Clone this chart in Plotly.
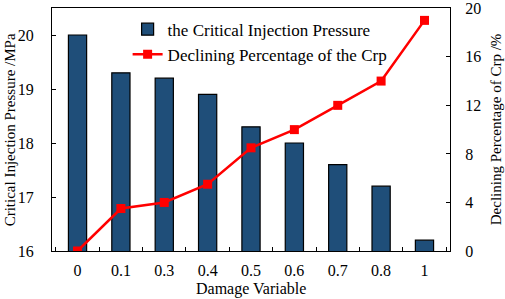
import plotly.graph_objects as go

categories = ["0", "0.1", "0.3", "0.4", "0.5", "0.6", "0.7", "0.8", "1"]
pressure = [20.0, 19.3, 19.2, 18.9, 18.3, 18.0, 17.6, 17.2, 16.2]
declining = [0, 3.5, 4.0, 5.5, 8.5, 10.0, 12.0, 14.0, 19.0]

x_title = "Damage Variable"
y_title = "Critical Injection Pressure /MPa"
y2_title = "Declining Percentage of Crp /%"

font = "Liberation Serif, Times New Roman, serif"

fig = go.Figure()
fig.add_trace(go.Bar(
    x=categories, y=pressure, name="the Critical Injection Pressure",
    marker=dict(color="#1f4e79", line=dict(color="black", width=1.2)),
    width=0.42,
))
fig.add_trace(go.Scatter(
    x=categories, y=declining, name="Declining Percentage of the Crp",
    mode="lines+markers", yaxis="y2",
    line=dict(color="#ff0000", width=2.5),
    marker=dict(symbol="square", size=9, color="#ff0000"),
))

fig.update_layout(
    width=505, height=299,
    margin=dict(l=52, r=55, t=8, b=48, autoexpand=False),
    paper_bgcolor="white", plot_bgcolor="white",
    font=dict(family=font, size=16, color="black"),
    showlegend=True,
    legend=dict(x=0.19, y=0.985, xanchor="left", yanchor="top",
                bgcolor="rgba(0,0,0,0)", font=dict(size=17),
                tracegroupgap=0, itemwidth=30),
    xaxis=dict(
        type="category", showline=True, linecolor="black", linewidth=1.2,
        mirror=True, ticks="inside", tickson="boundaries", ticklen=4,
        tickcolor="black", showgrid=False, automargin=False,
        ticklabelstandoff=5,
    ),
    yaxis=dict(
        range=[16, 20.5], tickvals=[16, 17, 18, 19, 20],
        showline=True, linecolor="black", linewidth=1.2,
        ticks="inside", ticklen=4, tickcolor="black", showgrid=False,
        zeroline=False, automargin=False, ticklabelstandoff=14,
    ),
    yaxis2=dict(
        range=[0, 20.02], tickvals=[0, 4, 8, 12, 16, 20],
        overlaying="y", side="right",
        showline=True, linecolor="black", linewidth=1.2,
        ticks="inside", ticklen=4, tickcolor="black", showgrid=False,
        zeroline=False, automargin=False, ticklabelstandoff=11,
        ticklabeloverflow="allow",
    ),
    annotations=[
        dict(text=x_title, xref="paper", yref="paper", x=0.5, y=-0.155,
             xanchor="center", yanchor="middle", showarrow=False,
             font=dict(size=16)),
        dict(text=y_title, xref="paper", yref="paper", x=-0.106, y=0.5,
             xanchor="center", yanchor="middle", showarrow=False,
             textangle=-90, font=dict(size=15)),
        dict(text=y2_title, xref="paper", yref="paper", x=1.115, y=0.5,
             xanchor="center", yanchor="middle", showarrow=False,
             textangle=-90, font=dict(size=15)),
    ],
)

fig.write_html("out.html", config={"displayModeBar": False},
               post_script="document.body.style.margin='0';")
